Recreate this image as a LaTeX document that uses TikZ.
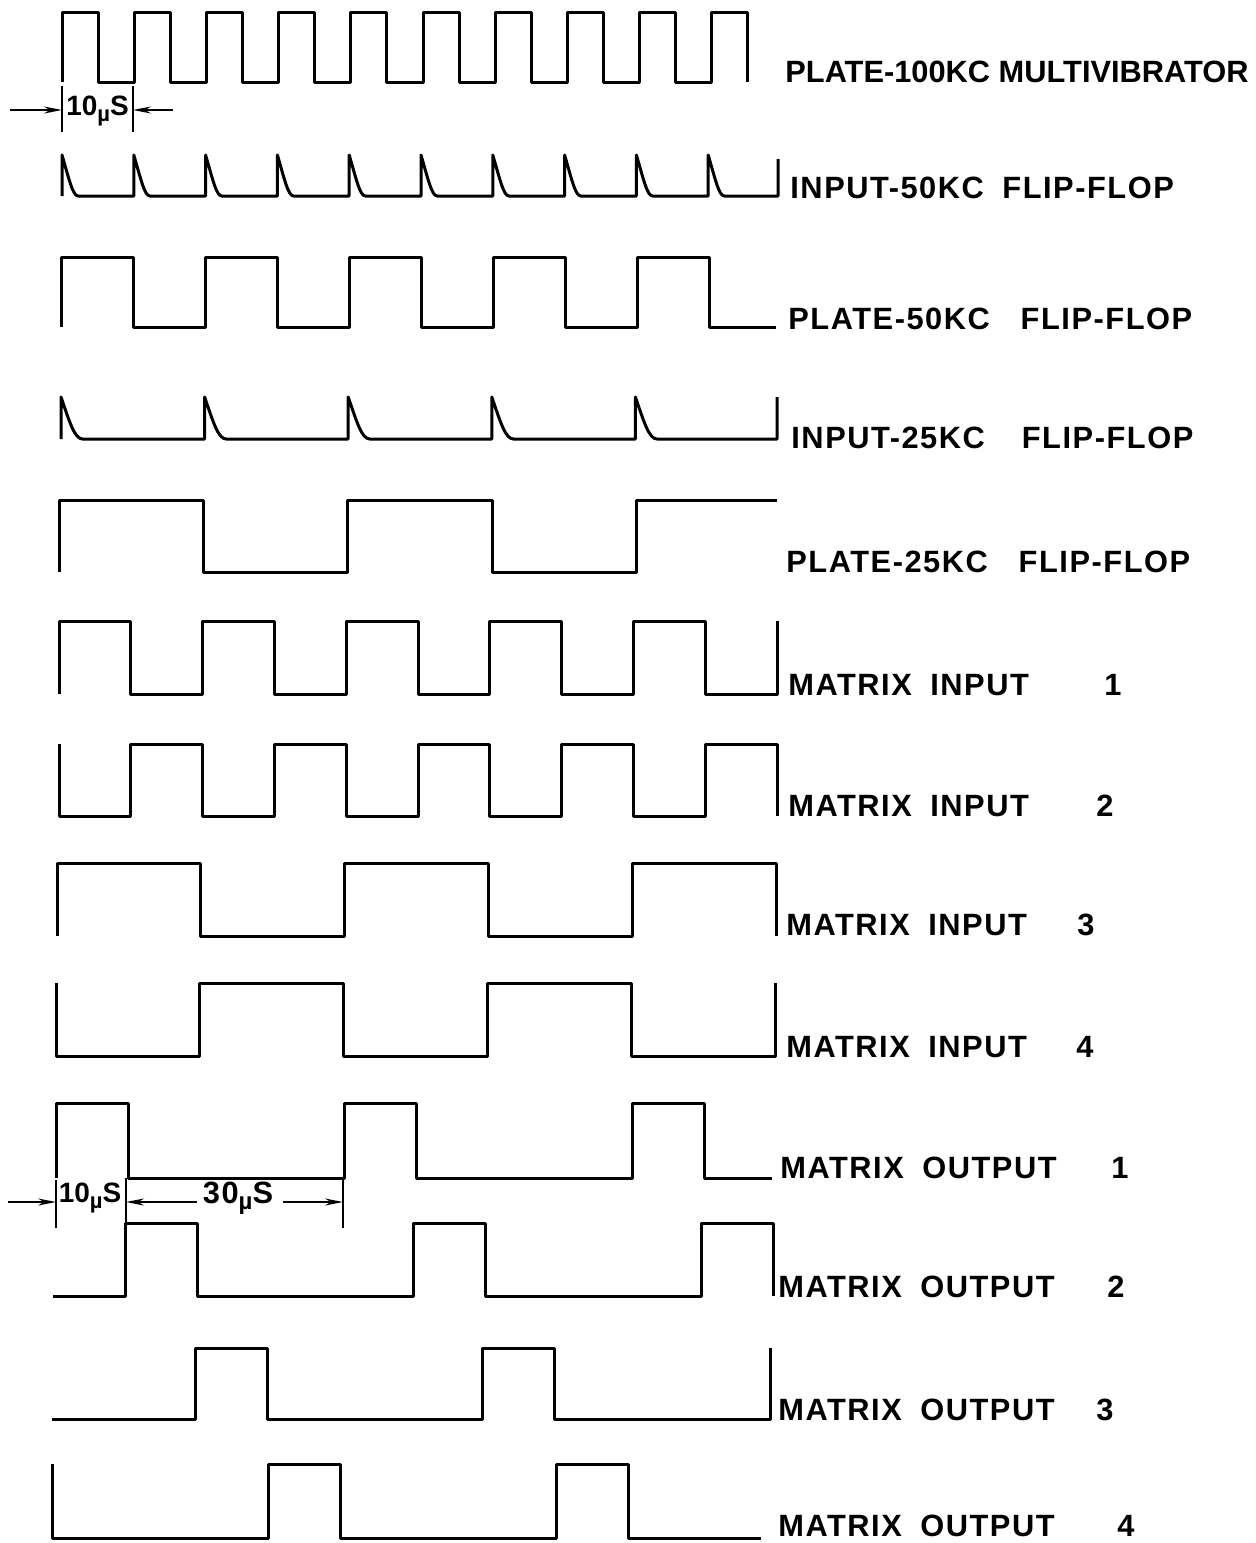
\documentclass[tikz,border=0pt]{standalone}
\usepackage{fontspec}
\usetikzlibrary{arrows.meta}
\newfontfamily\lettering{Liberation Sans}[LetterSpace=5]

\begin{document}
\begin{tikzpicture}[x=0.5pt, y=-0.5pt]
    \tikzstyle{wave}=[line width=1.5pt, line join=round]
    \tikzstyle{dim}=[line width=1pt]
    \tikzstyle{dimarrow}=[line width=1pt, -{Stealth[length=9pt, width=3.5pt]}]
    \tikzstyle{label}=[anchor=base west, inner sep=0pt, font=\lettering\bfseries\fontsize{15.4}{18}\selectfont]
    \tikzstyle{dimtext}=[inner sep=1pt, font=\lettering\bfseries\fontsize{14}{16}\selectfont]
    \useasboundingbox (0,0) rectangle (1256,1543);

    % plate 100kc multivibrator
    \begin{scope}[shift={(62,82)}, x=18.05pt, y=35pt]
        \draw [wave] (0,0) \foreach \i in {0,2,...,16} {|- (\i+1,1) |- (\i+2,0)} |- (19,1) -- (19,0);
    \end{scope}
    % input 50kc
    \begin{scope}[shift={(62,196)}, x=17.95pt, y=20.5pt]
        \draw [wave] (0,0) \foreach \i in {0,2,...,18} {-- (\i,0) -- (\i,1) .. controls (\i+0.2,0.4) and (\i+0.3,0) .. (\i+0.45,0)} -- (19.95,0) -- (19.95,0.9);
    \end{scope}
    % plate 50kc
    \begin{scope}[shift={(61,327)}, x=18pt, y=35pt]
        \draw [wave] (0,0) \foreach \i in {0,4,...,12} {|- (\i+2,1) |- (\i+4,0)} |- (18,1) |- (19.85,0);
    \end{scope}
    % input 25kc
    \begin{scope}[shift={(61,439)}, x=17.95pt, y=21pt]
        \draw [wave] (0,0) \foreach \i in {0,4,...,16} {-- (\i,0) -- (\i,1) .. controls (\i+0.24,0.4) and (\i+0.38,0) .. (\i+0.6,0)} -- (19.95,0) -- (19.95,1);
    \end{scope}
    % plate 25kc
    \begin{scope}[shift={(59,572)}, x=18.05pt, y=36pt]
        \draw [wave] (0,0) |- (4,1) |- (8,0) |- (12,1) |- (16,0) |- (19.9,1);
    \end{scope}
    % matrix inputs
    \begin{scope}[shift={(59,694)}, x=17.95pt, y=36.5pt]
        \draw [wave] (0,0) \foreach \i in {0,4,...,16} {|- (\i+2,1) |- (\i+4,0)} -- (20,1);
    \end{scope}
    \begin{scope}[shift={(59,816)}, x=17.95pt, y=36pt]
        \draw [wave] (0,1) \foreach \i in {0,4,...,16} {|- (\i+2,0) |- (\i+4,1)} -- (20,0);
    \end{scope}
    \begin{scope}[shift={(57,936)}, x=17.975pt, y=36.5pt]
        \draw [wave] (0,0) |- (4,1) |- (8,0) |- (12,1) |- (16,0) |- (20,1) -- (20,0);
    \end{scope}
    \begin{scope}[shift={(56,1056)}, x=17.975pt, y=36.5pt]
        \draw [wave] (0,1) |- (4,0) |- (8,1) |- (12,0) |- (16,1) |- (20,0) -- (20,1);
    \end{scope}
    % matrix outputs
    \begin{scope}[shift={(56,1178)}, x=18pt, y=37.5pt]
        \draw [wave] (0,0) |- (2,1) |- (8,0) |- (10,1) |- (16,0) |- (18,1) |- (19.9,0);
    \end{scope}
    \begin{scope}[shift={(53,1296)}, x=18pt, y=36.5pt]
        \draw [wave] (0,0) -| (2,1) -| (4,0) -| (10,1) -| (12,0) -| (18,1) -| (20,0);
    \end{scope}
    \begin{scope}[shift={(52,1419)}, x=17.95pt, y=35.5pt]
        \draw [wave] (0,0) -| (4,1) -| (6,0) -| (12,1) -| (14,0) -| (20,1);
    \end{scope}
    \begin{scope}[shift={(52,1538)}, x=18pt, y=37pt]
        \draw [wave] (0,1) -- (0,0) -| (6,1) -| (8,0) -| (14,1) -| (16,0) -- (19.7,0);
    \end{scope}

    % 10us mark under the multivibrator
    \coordinate (p0) at (10,110);
    \coordinate (p1) at (62,110);
    \coordinate (p2) at (133,110);
    \coordinate (p3) at (173,110);
    \draw [dim] (62,86) -- (62,132);
    \draw [dim] (133,86) -- (133,132);
    \draw [dimarrow] (p0) -- (p1);
    \draw [dimarrow] (p3) -- (p2);
    \node [dimtext] (tenA) at (97.5,111) {\addfontfeature{LetterSpace=0}10\raisebox{-0.35ex}{\fontsize{11}{12}\selectfont µ}S};

    % 10us and 30us marks between the outputs
    \coordinate (q0) at (8,1202);
    \coordinate (q1) at (56,1202);
    \coordinate (q2) at (126,1202);
    \coordinate (q3) at (197,1202);
    \coordinate (q4) at (283,1202);
    \coordinate (q5) at (343,1202);
    \draw [dim] (56,1180) -- (56,1228);
    \draw [dim] (126,1178) -- (126,1223);
    \draw [dim] (343,1180) -- (343,1228);
    \draw [dimarrow] (q0) -- (q1);
    \draw [dimarrow] (q3) -- (q2);
    \draw [dimarrow] (q4) -- (q5);
    \node [dimtext] (tenB) at (90,1198) {\addfontfeature{LetterSpace=0}10\raisebox{-0.35ex}{\fontsize{11}{12}\selectfont µ}S};
    \node [dimtext] (thirty) at (238,1198) {\fontsize{15.4}{16}\selectfont 30\raisebox{-0.35ex}{\fontsize{12}{12}\selectfont µ}S};

    % labels
    \node [label] (plate100) at (785,82) {\addfontfeature{LetterSpace=0}PLATE-100KC MULTIVIBRATOR};
    \node [label] (input50) at (790,198) {INPUT-50KC\hspace{0.6em}FLIP-FLOP};
    \node [label] (plate50) at (788,329) {PLATE-50KC\hspace{1em}FLIP-FLOP};
    \node [label] (input25) at (791,448) {INPUT-25KC\hspace{1.2em}FLIP-FLOP};
    \node [label] (plate25) at (786,572) {PLATE-25KC\hspace{1em}FLIP-FLOP};
    \node [label] (in1) at (788,695) {\makebox[158pt][l]{MATRIX\hspace{0.6em}INPUT}1};
    \node [label] (in2) at (788,816) {\makebox[154pt][l]{MATRIX\hspace{0.6em}INPUT}2};
    \node [label] (in3) at (786,935) {\makebox[145.5pt][l]{MATRIX\hspace{0.6em}INPUT}3};
    \node [label] (in4) at (786,1057) {\makebox[145pt][l]{MATRIX\hspace{0.6em}INPUT}4};
    \node [label] (out1) at (780,1178) {\makebox[165.5pt][l]{MATRIX\hspace{0.6em}OUTPUT}1};
    \node [label] (out2) at (778,1297) {\makebox[164.5pt][l]{MATRIX\hspace{0.6em}OUTPUT}2};
    \node [label] (out3) at (778,1420) {\makebox[159pt][l]{MATRIX\hspace{0.6em}OUTPUT}3};
    \node [label] (out4) at (778,1536) {\makebox[169.5pt][l]{MATRIX\hspace{0.6em}OUTPUT}4};
\end{tikzpicture}
\end{document}
